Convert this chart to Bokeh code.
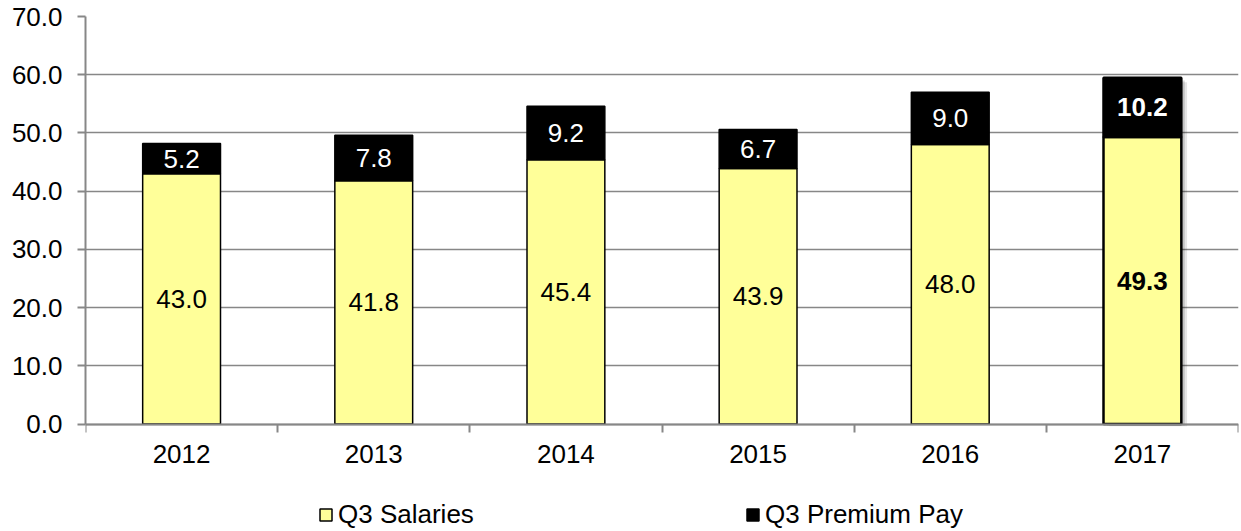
from bokeh.plotting import figure
from bokeh.models import (ColumnDataSource, Range1d, FixedTicker, NumeralTickFormatter,
                          Legend, LegendItem)
from bokeh.core.properties import value, field
from bokeh.transform import dodge
from bokeh.embed import file_html
from bokeh.resources import INLINE

years = ["2012", "2013", "2014", "2015", "2016", "2017"]
salaries = [43.0, 41.8, 45.4, 43.9, 48.0, 49.3]
premium = [5.2, 7.8, 9.2, 6.7, 9.0, 10.2]
y_ticks = [0, 10, 20, 30, 40, 50, 60, 70]
highlight_year = "2017"

FONT = "Liberation Sans"
GRAY = "#878787"

n = len(years)
xs = [i + 0.5 for i in range(n)]
totals = [s + p for s, p in zip(salaries, premium)]
hl = [y == highlight_year for y in years]

src = ColumnDataSource(dict(
    x=xs,
    sal=salaries,
    prem=premium,
    tot=totals,
    sal_mid=[s / 2 for s in salaries],
    prem_mid=[s + p / 2 for s, p in zip(salaries, premium)],
    sal_lbl=[f"{s:.1f}" for s in salaries],
    prem_lbl=[f"{p:.1f}" for p in premium],
    lw=[2.5 if h else 1.5 for h in hl],
    fs=["bold" if h else "normal" for h in hl],
))
shadow_src = ColumnDataSource(dict(
    x=[x for x, h in zip(xs, hl) if h],
    tot=[t for t, h in zip(totals, hl) if h],
))

# layout: plot frame spans the full height; the value axis covers 0..70 in its upper part,
# the lower part holds the category labels and legend
H, TOP = 531, 16
px_per_unit = (423.5 - TOP) / (y_ticks[-1] - y_ticks[0])
y_lo = y_ticks[-1] - (H - TOP) / px_per_unit

p = figure(width=1241, height=H, x_range=Range1d(0, n), y_range=Range1d(y_lo, y_ticks[-1]),
           output_backend="svg", toolbar_location=None,
           min_border_left=85, min_border_right=3, min_border_top=TOP, min_border_bottom=0)
p.outline_line_color = None
p.background_fill_color = "white"
p.border_fill_color = "white"

# grid
p.xgrid.grid_line_color = None
p.ygrid.ticker = FixedTicker(ticks=y_ticks)
p.ygrid.grid_line_color = GRAY
p.ygrid.grid_line_width = 1.5

# y axis
ya = p.yaxis[0]
ya.ticker = FixedTicker(ticks=y_ticks, minor_ticks=[])
ya.bounds = (y_ticks[0], y_ticks[-1])
ya.formatter = NumeralTickFormatter(format="0.0")
ya.axis_line_color = GRAY
ya.axis_line_width = 2
ya.major_tick_line_color = GRAY
ya.major_tick_line_width = 2
ya.major_tick_out = 8
ya.major_tick_in = 0
ya.minor_tick_line_color = None
ya.major_label_standoff = 15
ya.major_label_text_font = FONT
ya.major_label_text_font_size = "26px"
ya.major_label_text_color = "black"

# x axis (pinned at value 0)
xa = p.xaxis[0]
xa.fixed_location = y_ticks[0]
xa.ticker = FixedTicker(ticks=xs, minor_ticks=list(range(n + 1)))
xa.major_label_overrides = {x: y for x, y in zip(xs, years)}
xa.axis_line_color = GRAY
xa.axis_line_width = 2
xa.major_tick_line_color = None
xa.minor_tick_line_color = GRAY
xa.minor_tick_line_width = 2
xa.minor_tick_out = 8
xa.minor_tick_in = 0
xa.major_label_standoff = 13
xa.major_label_text_font = FONT
xa.major_label_text_font_size = "26px"
xa.major_label_text_color = "black"

W = 0.405
# shadow of highlighted bar
p.vbar(x=dodge("x", 0.03, range=p.x_range), top=dodge("tot", -0.8), bottom=-0.4, width=W,
       source=shadow_src, fill_color="black", fill_alpha=0.10, line_color=None)
p.vbar(x=dodge("x", 0.018, range=p.x_range), top=dodge("tot", -0.5), bottom=-0.25, width=W,
       source=shadow_src, fill_color="black", fill_alpha=0.15, line_color=None)

r_sal = p.vbar(x="x", bottom=0, top="sal", width=W, source=src,
               fill_color="#FFFF99", line_color="black", line_width="lw")
r_prem = p.vbar(x="x", bottom="sal", top="tot", width=W, source=src,
                fill_color="black", line_color="black", line_width="lw")

p.text(x="x", y="sal_mid", text="sal_lbl", source=src, text_align="center", text_baseline="middle",
       text_font=value(FONT), text_font_size="26px", text_font_style=field("fs"), text_color="black")
p.text(x="x", y="prem_mid", text="prem_lbl", source=src, text_align="center", text_baseline="middle",
       text_font=value(FONT), text_font_size="26px", text_font_style=field("fs"), text_color="white")

legend = Legend(items=[LegendItem(label="Q3 Salaries", renderers=[r_sal], index=0),
                       LegendItem(label="Q3 Premium Pay", renderers=[r_prem], index=0)],
                location=(233, 1), orientation="horizontal", spacing=167, label_width=240,
                glyph_width=15, glyph_height=15, label_standoff=5, padding=0, margin=0,
                border_line_color=None, background_fill_alpha=0,
                label_text_font=FONT, label_text_font_size="26px", label_text_color="black")
p.add_layout(legend)

open("out.html", "w").write(file_html(p, INLINE))
